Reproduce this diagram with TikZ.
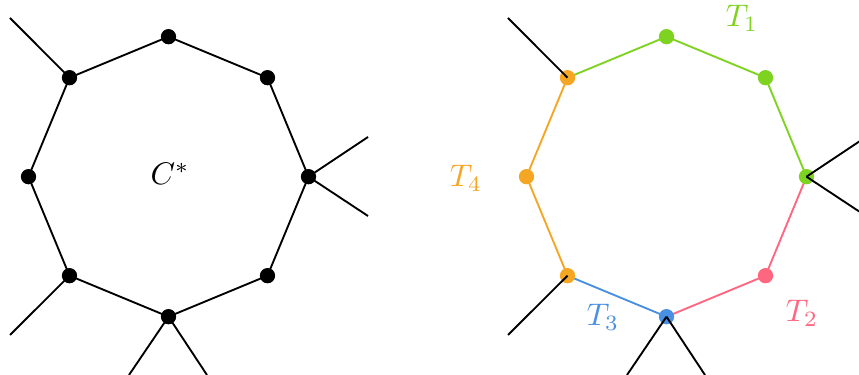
\documentclass[tikz,border=0pt]{standalone}
\usepackage{amsmath,amssymb}
\usepackage{xcolor}
\usepackage{tikz}
\usetikzlibrary{calc}

\definecolor{tgreen}{RGB}{126,211,33}
\definecolor{tred}{RGB}{255,102,128}
\definecolor{tblue}{RGB}{74,144,226}
\definecolor{torange}{RGB}{245,166,35}

\tikzset{
  vtx/.style={circle,fill,inner sep=0pt,minimum size=4.9pt},
  edge/.style={line width=0.6pt}
}

\begin{document}
\begin{tikzpicture}[x=0.32pt,y=-0.32pt]
  \useasboundingbox (0,0) rectangle (859,375);
  \clip (0,0) rectangle (859,375);
  \def\rad{140}

  % left cycle C^*
  \foreach \k in {0,...,7}{
    \coordinate (a\k) at ($(168.5,176.7)+({-90+45*\k}:\rad)$);
  }
  \draw[edge] (a0)--(a1)--(a2)--(a3)--(a4)--(a5)--(a6)--(a7)--cycle;
  \foreach \k in {0,...,7}{
    \node[vtx] (p\k) at (a\k) {};
  }
  \coordinate (l1) at (10,18);
  \coordinate (l2) at (368,137);
  \coordinate (l3) at (368,216);
  \coordinate (l4) at (129,375);
  \coordinate (l5) at (207,375);
  \coordinate (l6) at (10,335);
  \draw[edge] (p7.center)--(l1);
  \draw[edge] (p2.center)--(l2);
  \draw[edge] (p2.center)--(l3);
  \draw[edge] (p4.center)--(l4);
  \draw[edge] (p4.center)--(l5);
  \draw[edge] (p5.center)--(l6);
  \node (cstar) at (170,174) {$C^*$};

  % right cycle, split into T_1,...,T_4
  \foreach \k in {0,...,7}{
    \coordinate (b\k) at ($(666.5,176.7)+({-90+45*\k}:\rad)$);
  }
  \draw[edge,tgreen]  (b7)--(b0)--(b1)--(b2);
  \draw[edge,tred]    (b2)--(b3)--(b4);
  \draw[edge,tblue]   (b4)--(b5);
  \draw[edge,torange] (b5)--(b6)--(b7);
  \node[vtx,torange] (q7) at (b7) {};
  \node[vtx,tgreen]  (q0) at (b0) {};
  \node[vtx,tgreen]  (q1) at (b1) {};
  \node[vtx,tgreen]  (q2) at (b2) {};
  \node[vtx,tred]    (q3) at (b3) {};
  \node[vtx,tblue]   (q4) at (b4) {};
  \node[vtx,torange] (q5) at (b5) {};
  \node[vtx,torange] (q6) at (b6) {};
  \coordinate (r1) at (508,18);
  \coordinate (r2) at (866,137);
  \coordinate (r3) at (866,216);
  \coordinate (r4) at (627,375);
  \coordinate (r5) at (705,375);
  \coordinate (r6) at (508,335);
  \draw[edge] (q7.center)--(r1);
  \draw[edge] (q2.center)--(r2);
  \draw[edge] (q2.center)--(r3);
  \draw[edge] (q4.center)--(r4);
  \draw[edge] (q4.center)--(r5);
  \draw[edge] (q5.center)--(r6);
  \node[tgreen]  (t1) at (742,18)  {$T_1$};
  \node[tred]    (t2) at (802,313) {$T_2$};
  \node[tblue]   (t3) at (603,317) {$T_3$};
  \node[torange] (t4) at (466,178) {$T_4$};
\end{tikzpicture}
\end{document}
